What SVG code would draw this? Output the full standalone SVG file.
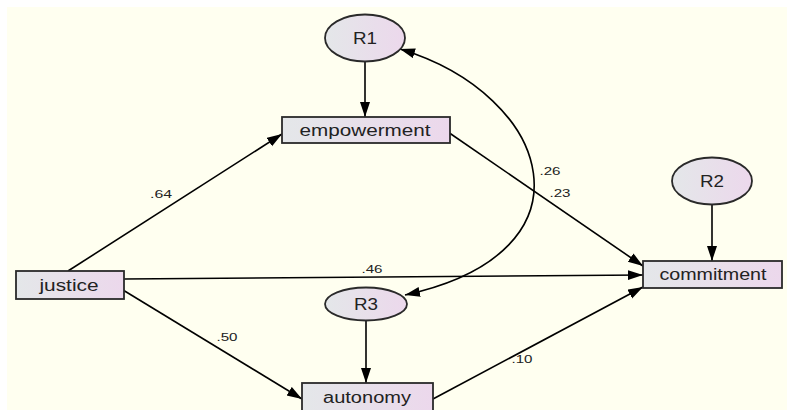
<svg xmlns="http://www.w3.org/2000/svg" width="787" height="410" viewBox="0 0 787 410">
<defs>
<linearGradient id="g" x1="0" y1="0" x2="1" y2="0">
<stop offset="0" stop-color="#e4e7e9"/>
<stop offset="1" stop-color="#ecd8ec"/>
</linearGradient>
<marker id="ah" markerUnits="userSpaceOnUse" markerWidth="16" markerHeight="11" refX="15" refY="5" orient="auto-start-reverse">
<path d="M0,0 L15,5 L0,10 z" fill="#000"/>
</marker>
<style>
.node{fill:url(#g);stroke:#2a2a2a;stroke-width:1.8}
.lbl{font-family:"Liberation Sans",Arial,sans-serif;font-size:16px;fill:#222;text-anchor:middle}
.num{font-family:"Liberation Sans",Arial,sans-serif;font-size:11px;fill:#222;text-anchor:middle}
.edge{fill:none;stroke:#000;stroke-width:1.6;marker-end:url(#ah)}
</style>
</defs>
<rect x="0" y="0" width="787" height="410" fill="#ffffff"/>
<rect x="7" y="7" width="780" height="403" fill="#fffff0"/>
<g id="connectors">
<line class="edge" x1="365" y1="62" x2="365" y2="117"/>
<line class="edge" x1="712" y1="205" x2="712" y2="261"/>
<line class="edge" x1="366" y1="320" x2="366" y2="383"/>
<line class="edge" x1="68" y1="271" x2="282" y2="134"/>
<line class="edge" x1="124" y1="279" x2="643" y2="275"/>
<line class="edge" x1="123" y1="290" x2="302" y2="399"/>
<line class="edge" x1="448" y1="132" x2="643" y2="266"/>
<line class="edge" x1="433" y1="399" x2="643" y2="287"/>
<path class="edge" d="M400,49 C552,95 602,252 405,295" style="marker-start:url(#ah)"/>
<text class="num" x="161" y="198" textLength="22" lengthAdjust="spacingAndGlyphs">.64</text>
<text class="num" x="227" y="341" textLength="21" lengthAdjust="spacingAndGlyphs">.50</text>
<text class="num" x="550" y="175" textLength="21" lengthAdjust="spacingAndGlyphs">.26</text>
<text class="num" x="560" y="197" textLength="21" lengthAdjust="spacingAndGlyphs">.23</text>
<text class="num" x="372" y="273" textLength="21" lengthAdjust="spacingAndGlyphs">.46</text>
<text class="num" x="522" y="363" textLength="21" lengthAdjust="spacingAndGlyphs">.10</text>
</g>
<g id="R1">
<ellipse class="node" cx="365" cy="38" rx="40" ry="23.5"/>
<text class="lbl" x="365" y="44" textLength="24" lengthAdjust="spacingAndGlyphs">R1</text>
</g>
<g id="R2">
<ellipse class="node" cx="712" cy="181" rx="40" ry="23.5"/>
<text class="lbl" x="712" y="187" textLength="24" lengthAdjust="spacingAndGlyphs">R2</text>
</g>
<g id="R3">
<ellipse class="node" cx="366" cy="304" rx="41" ry="16.5"/>
<text class="lbl" x="366" y="310" textLength="24" lengthAdjust="spacingAndGlyphs">R3</text>
</g>
<g id="empowerment">
<rect class="node" x="282" y="117" width="168" height="26"/>
<text class="lbl" x="365" y="136" textLength="131" lengthAdjust="spacingAndGlyphs">empowerment</text>
</g>
<g id="justice">
<rect class="node" x="16" y="271" width="108" height="28"/>
<text class="lbl" x="69" y="291" textLength="59" lengthAdjust="spacingAndGlyphs">justice</text>
</g>
<g id="commitment">
<rect class="node" x="643" y="261" width="139" height="27"/>
<text class="lbl" x="713" y="280" textLength="107" lengthAdjust="spacingAndGlyphs">commitment</text>
</g>
<g id="autonomy">
<rect class="node" x="302" y="383" width="131" height="28"/>
<text class="lbl" x="367" y="403" textLength="88" lengthAdjust="spacingAndGlyphs">autonomy</text>
</g>
</svg>
